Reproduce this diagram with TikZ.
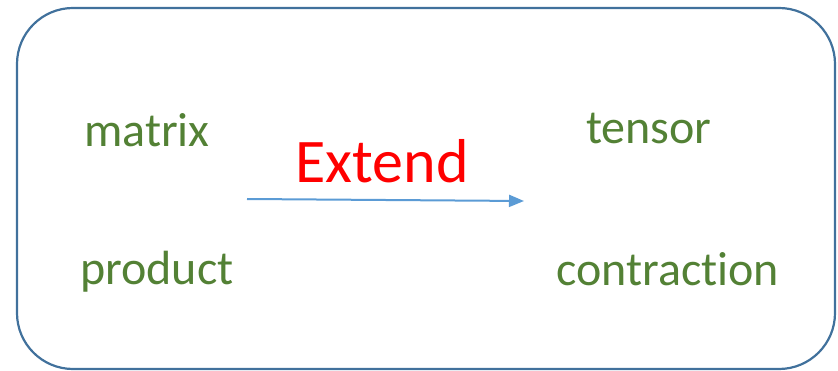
\documentclass[tikz,border=0pt]{standalone}
\usepackage{fontspec}
\setmainfont[Ligatures={NoCommon,NoRare}]{Carlito}
\usetikzlibrary{arrows.meta}
\definecolor{boxblue}{HTML}{41719C}
\definecolor{arrowblue}{HTML}{5B9BD5}
\definecolor{txtgreen}{HTML}{538135}
\definecolor{txtred}{HTML}{FF0000}
\tikzset{
  word/.style={anchor=base west, inner sep=0pt, text=txtgreen, font=\fontsize{48}{56}\selectfont},
  bigword/.style={anchor=base west, inner sep=0pt, text=txtred, font=\fontsize{62}{72}\selectfont},
  frame/.style={draw=boxblue, line width=2.2pt, rounded corners=56pt},
  conn/.style={draw=arrowblue, line width=2pt, -{Triangle[length=15pt,width=12pt]}}
}
\begin{document}
\begin{tikzpicture}[x=1pt,y=-1pt]
\useasboundingbox (0,0) rectangle (838,371);
\draw[frame] (17,8) rectangle (835,369);
\node[word] (matrix) at (84,147) {matrix};
\node[word] (product) at (80,285) {product};
\node[word] (tensor) at (586,144) {tensor};
\node[word] (contraction) at (556,286) {contrac\kern0pt tion};
\node[bigword] (extend) at (295,183) {Extend};
\coordinate (a) at (247,199);
\coordinate (b) at (524,201);
\draw[conn] (a) -- (b);
\end{tikzpicture}
\end{document}
